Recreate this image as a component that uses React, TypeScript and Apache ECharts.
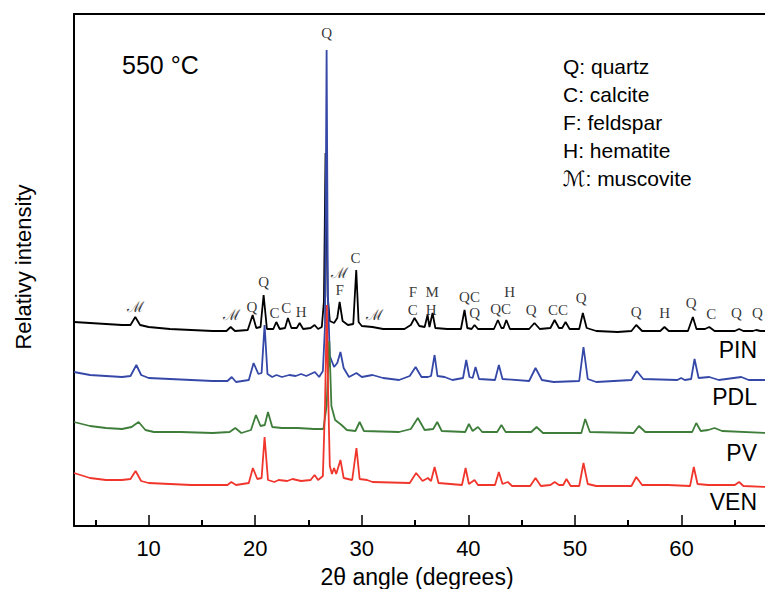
import { useEffect, useRef } from "react";
import * as echarts from "echarts";

// 2θ (degrees), relative intensity (plot units)
const pinData: [number, number][] = [
  [3.0, 204], [4.5, 203], [6, 202], [7.5, 201], [8.3, 201], [8.75, 209], [9.2, 201], [10, 199], [12, 197], [14, 196], [16, 195],
  [17.3, 195], [17.7, 199], [18.1, 195], [19.3, 196], [19.76, 211], [20.1, 198], [20.5, 199], [20.79, 231], [21.1, 197],
  [21.7, 197], [21.98, 204], [22.3, 197], [22.8, 198], [23.07, 208], [23.4, 198], [23.9, 198], [24.17, 203], [24.5, 197],
  [25.2, 198], [25.57, 201], [25.9, 197], [26.25, 199], [26.45, 225], [26.6, 373], [26.8, 230], [27.0, 205], [27.4, 203],
  [27.7, 208], [27.92, 224], [28.2, 205], [28.7, 201], [29.2, 202], [29.48, 256], [29.7, 204], [30.0, 200], [31.0, 199],
  [32, 197], [34.0, 197], [34.6, 201], [34.95, 208], [35.4, 200], [35.9, 199], [36.17, 211], [36.35, 199], [36.64, 213],
  [36.9, 198], [38, 197], [39.3, 197], [39.64, 216], [39.9, 198], [40.3, 197], [40.58, 201], [40.9, 197], [42.4, 197],
  [42.77, 206], [43.1, 198], [43.3, 198], [43.56, 206], [43.9, 197], [45.7, 197], [46.2, 203], [46.7, 197], [47.7, 198],
  [48.09, 206], [48.5, 198], [48.8, 198], [49.12, 204], [49.5, 197], [50.4, 197], [50.74, 213], [51.1, 198], [52, 195],
  [54, 194], [55.3, 195], [55.75, 201], [56.3, 195], [58.0, 195], [58.4, 199], [58.8, 195], [60.6, 195], [61.06, 209],
  [61.4, 197], [62.2, 197], [62.6, 199], [63.1, 195], [65, 195], [65.4, 197], [65.8, 195], [66.7, 195], [67.0, 196],
  [67.4, 195], [68.0, 195],
];

const pdlData: [number, number][] = [
  [3.0, 154], [4.5, 151], [6, 150], [7.5, 149], [8.3, 150], [8.85, 161], [9.3, 151], [10, 148], [12, 147], [14, 146],
  [16, 145], [17.4, 145], [17.8, 149], [18.2, 144], [19.4, 146], [19.85, 163], [20.3, 152], [20.6, 153], [20.88, 201],
  [21.15, 152], [21.6, 149], [22.0, 151], [22.5, 149], [23.2, 151], [23.8, 150], [24.3, 152], [24.8, 150], [25.6, 154],
  [26.0, 149], [26.35, 155], [26.55, 200], [26.7, 476], [26.82, 230], [27.0, 170], [27.4, 159], [27.7, 163], [28.0, 174],
  [28.3, 158], [28.8, 149], [29.5, 153], [30, 149], [31, 151], [32, 148], [33.5, 146], [34.5, 150], [35.05, 159],
  [35.6, 149], [36.2, 149], [36.5, 150], [36.83, 171], [37.1, 150], [37.77, 149], [38.5, 146], [39.5, 148], [39.8, 166],
  [40.1, 149], [40.4, 148], [40.67, 159], [41, 147], [42.5, 146], [42.86, 161], [43.2, 147], [45.7, 145], [46.3, 158],
  [46.9, 146], [48, 144], [50.4, 145], [50.8, 179], [51.2, 147], [52, 144], [55.3, 146], [55.8, 155], [56.4, 147],
  [59.6, 146], [59.96, 148], [60.3, 146], [60.9, 147], [61.22, 167], [61.6, 148], [62.6, 149], [63.5, 146], [65.6, 149],
  [66.3, 146], [68, 146],
];

const pvData: [number, number][] = [
  [3.0, 104], [4.5, 100], [6, 98], [7.5, 97], [8.4, 99], [9.06, 104], [9.7, 96], [10.5, 94], [13, 94], [16, 93],
  [17.6, 94], [18.13, 98], [18.7, 93], [19.6, 96], [20.07, 111], [20.5, 100], [20.9, 101], [21.2, 114], [21.6, 99],
  [22.5, 98], [24, 98], [25.5, 97], [26.4, 97], [26.7, 120], [26.95, 185], [27.15, 120], [27.5, 106], [28.1, 101],
  [28.6, 96], [29.4, 95], [29.8, 104], [30.2, 95], [33.5, 94], [34.6, 97], [35.26, 108], [35.9, 96], [36.7, 97],
  [37.08, 104], [37.5, 95], [39.7, 94], [40.05, 102], [40.4, 95], [40.9, 99], [41.3, 94], [42.7, 94], [43.1, 101],
  [43.5, 94], [45.9, 94], [46.4, 99], [47, 93], [50.6, 93], [50.96, 107], [51.4, 94], [55.5, 93], [56.0, 100], [56.6, 94],
  [61.0, 94], [61.38, 103], [61.8, 95], [62.5, 96], [63.1, 98], [63.8, 95], [68, 93],
];

const venData: [number, number][] = [
  [3.0, 53], [4.5, 48], [6, 46], [7.5, 46], [8.3, 47], [8.78, 55], [9.3, 45], [10, 43], [12, 42], [14, 41], [16, 41],
  [17.4, 41], [17.76, 44], [18.2, 41], [19.4, 43], [19.78, 58], [20.2, 47], [20.6, 48], [20.88, 89], [21.2, 46],
  [21.8, 44], [22.2, 46], [23.0, 45], [23.5, 47], [24.3, 45], [25.2, 46], [25.57, 51], [25.9, 46], [26.35, 50],
  [26.55, 120], [26.72, 221], [26.85, 130], [27.0, 60], [27.2, 52], [27.4, 58], [27.6, 52], [28.0, 66], [28.3, 48],
  [29.1, 46], [29.5, 78], [29.8, 47], [30.5, 46], [31, 44], [34.5, 43], [35.1, 53], [35.7, 45], [36.2, 48], [36.5, 45],
  [36.83, 59], [37.2, 43], [39.4, 41], [39.74, 58], [40.05, 42], [40.58, 46], [40.9, 41], [42.5, 41], [42.86, 54],
  [43.2, 42], [43.7, 44], [44.1, 40], [45.8, 40], [46.3, 48], [46.8, 40], [47.7, 41], [48.1, 44], [48.5, 41], [48.9, 41],
  [49.2, 47], [49.6, 40], [50.4, 40], [50.8, 63], [51.2, 42], [52, 40], [55.3, 40], [55.75, 49], [56.3, 41], [58.7, 41],
  [60.8, 40], [61.15, 59], [61.5, 42], [62.5, 41], [65.0, 41], [65.4, 44], [65.8, 40], [68, 39],
];

// phase annotations above PIN peaks
const annX = [8.81, 17.81, 19.69, 20.79, 21.82, 22.92, 24.32, 26.7, 27.92, 27.92, 29.42, 31.2, 34.79, 34.79, 36.6, 36.52,
  40.11, 40.58, 43.87, 43.02, 45.9, 48.4, 50.59, 55.75, 58.41, 60.91, 62.79, 65.16, 67.13];
const annY = [219, 211, 219, 244, 213, 218, 214, 493, 253, 236, 268, 211, 234, 216, 234, 216,
  229, 213, 234, 217, 216, 216, 228, 214, 213, 223, 212, 213, 213];
const annText = ["ℳ", "ℳ", "Q", "Q", "C", "C", "H", "Q", "ℳ", "F", "C", "ℳ", "F", "C", "M", "H",
  "QC", "Q", "H", "QC", "Q", "CC", "Q", "Q", "H", "Q", "C", "Q", "Q"];

const seriesNames = ["PIN", "PDL", "PV", "VEN"];
const seriesColors = ["#000000", "#3548a8", "#3e7d3a", "#f0362c"];
const seriesLabelY = [350, 397, 453, 502];
const majorTicks = [10, 20, 30, 40, 50, 60];
const minorTicks = [5, 15, 25, 35, 45, 55, 65];
const legendLines = ["Q: quartz", "C: calcite", "F: feldspar", "H: hematite", "ℳ: muscovite"];

const X_MIN = 3;
const X_MAX = 67.83;

export default function App() {
  const ref = useRef<HTMLDivElement>(null);
  useEffect(() => {
    const chart = echarts.init(ref.current!, null, { renderer: "svg" });
    const datasets = [pinData, pdlData, pvData, venData];
    const sans = "'Liberation Sans', Arial, sans-serif";
    const axisLineStyle = { color: "#000", width: 2 };
    chart.setOption({
      animation: false,
      backgroundColor: "#ffffff",
      grid: { left: 74, top: 14, right: 0, bottom: 63, show: false },
      xAxis: [
        {
          type: "value", min: X_MIN, max: X_MAX, position: "bottom",
          axisLine: { show: true, onZero: false, lineStyle: axisLineStyle },
          splitLine: { show: false },
          axisTick: { show: true, inside: true, length: 11, customValues: majorTicks, lineStyle: { color: "#000", width: 1.5 } },
          axisLabel: { show: true, customValues: majorTicks, margin: 11, color: "#000", fontSize: 22, fontFamily: sans },
        },
        {
          type: "value", min: X_MIN, max: X_MAX, position: "bottom", offset: 0,
          axisLine: { show: false },
          splitLine: { show: false },
          axisTick: { show: true, inside: true, length: 6, customValues: minorTicks, lineStyle: { color: "#000", width: 2 } },
          axisLabel: { show: false },
        },
        {
          type: "value", min: X_MIN, max: X_MAX, position: "top",
          axisLine: { show: true, onZero: false, lineStyle: axisLineStyle },
          splitLine: { show: false }, axisTick: { show: false }, axisLabel: { show: false },
        },
      ],
      yAxis: {
        type: "value", min: 0, max: 512, position: "left",
        axisLine: { show: true, onZero: false, lineStyle: axisLineStyle },
        axisTick: { show: false }, axisLabel: { show: false }, splitLine: { show: false },
      },
      series: [
        ...datasets.map((d, i) => ({
          type: "line",
          name: seriesNames[i],
          data: d,
          symbol: "none",
          lineStyle: { color: seriesColors[i], width: 1.8 },
          silent: true,
        })),
        {
          type: "scatter",
          symbolSize: 0,
          data: annX.map((x, i) => [x, annY[i], annText[i]]),
          label: {
            show: true, position: "inside",
            formatter: (p: any) => p.value[2],
            color: "#000", fontSize: 15, fontFamily: "'Liberation Serif', 'DejaVu Serif', serif",
          },
          silent: true,
        },
      ],
      graphic: [
        {
          type: "text", left: 122, top: 52,
          style: { text: "550 °C", fontSize: 25, fontFamily: sans, fill: "#000" },
        },
        ...legendLines.map((t, i) => ({
          type: "text", x: 563, y: 66.7 + i * 27.9,
          style: { text: t, fontSize: 21, fontFamily: sans + ", 'DejaVu Sans'", fill: "#000", textVerticalAlign: "middle" },
        })),
        ...seriesNames.map((t, i) => ({
          type: "text", x: 757, y: seriesLabelY[i],
          style: { text: t, fontSize: 23, fontFamily: sans, fill: "#000", textAlign: "right", textVerticalAlign: "middle" },
        })),
        {
          type: "text", x: 417, y: 577,
          style: { text: "2θ angle (degrees)", fontSize: 23, fontFamily: sans, fill: "#000", textAlign: "center", textVerticalAlign: "middle" },
        },
        {
          type: "text", x: 23, y: 267, rotation: Math.PI / 2,
          style: { text: "Relativy intensity", fontSize: 22, fontFamily: sans, fill: "#000", textAlign: "center", textVerticalAlign: "middle" },
        },
      ],
    });
    return () => chart.dispose();
  }, []);
  return (
    <div
      ref={ref}
      style={{ position: "fixed", left: 0, top: 0, width: 765, height: 589, background: "#fff" }}
    />
  );
}
